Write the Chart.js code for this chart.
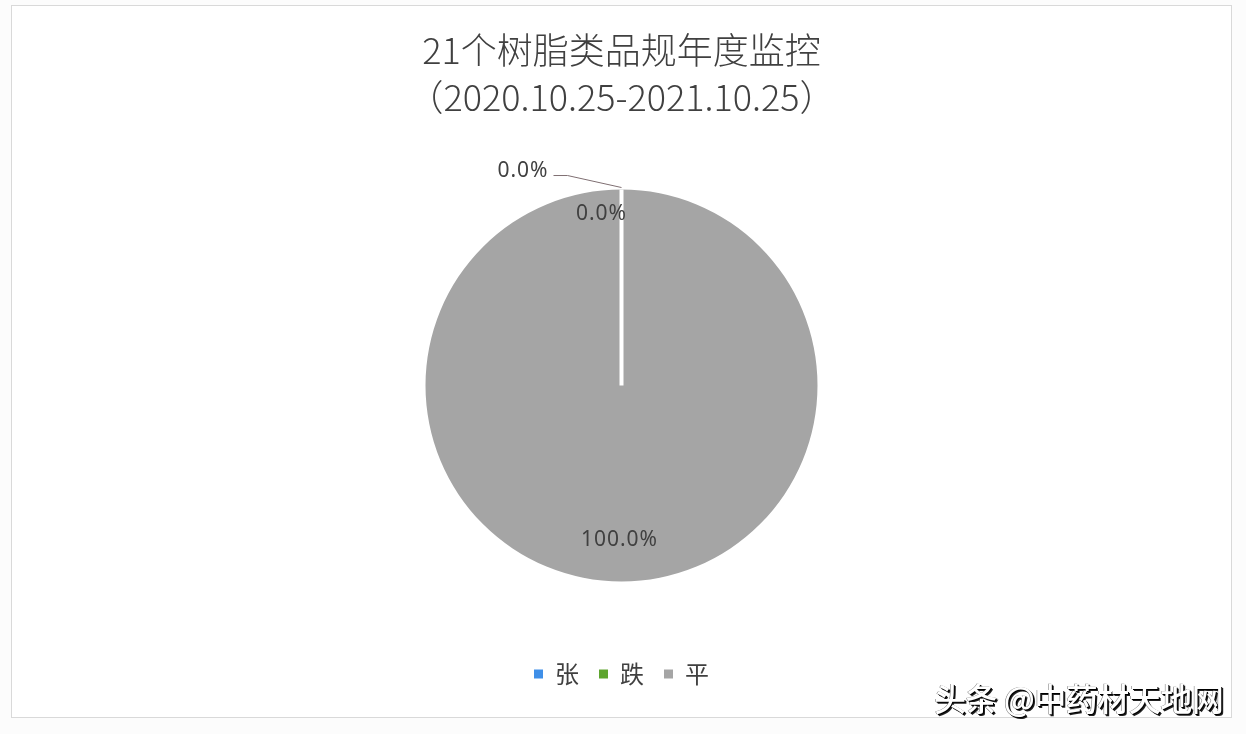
<!DOCTYPE html>
<html>
<head>
<meta charset="utf-8">
<script src="https://cdn.jsdelivr.net/npm/chart.js@4.4.0/dist/chart.umd.min.js"></script>
<style>
  html, body { margin: 0; padding: 0; background: #fcfcfc; width: 1246px; height: 734px; overflow: hidden; }
  #frame { position: absolute; left: 11px; top: 5px; width: 1221px; height: 713px; box-sizing: border-box;
           border: 1px solid #d9d9d9; background: #ffffff; }
  #wrap { position: absolute; left: 0; top: 0; width: 1219px; height: 711px; }
  #mark { position: absolute; left: 934px; top: 674px; font-family: "Noto Sans CJK SC"; font-size: 32px; font-weight: 500;
          color: #ffffff; letter-spacing: -0.5px; white-space: nowrap;
          text-shadow: 1px 1px 0 #000, 2px 2px 0 #222, -0.5px -0.5px 0 #666; }
</style>
</head>
<body>
<div id="frame"><div id="wrap"><canvas id="c"></canvas></div></div>
<div id="mark">头条 @中药材天地网</div>
<script>
const titleLines = ["21个树脂类品规年度监控", "（2020.10.25-2021.10.25）"];
const categories = ["张", "跌", "平"];
const values = [0, 0, 21];
const percentLabels = ["0.0%", "0.0%", "100.0%"];
const colors = ["#3f8fe8", "#5ea52f", "#a5a5a5"];

const labelPlugin = {
  id: 'pieLabels',
  afterDatasetsDraw(chart) {
    const meta = chart.getDatasetMeta(0);
    const ctx = chart.ctx;
    const arcs = meta.data;
    ctx.save();
    const a0 = arcs[0];
    const p0 = a0.getProps(['x', 'y', 'startAngle', 'endAngle', 'outerRadius'], true);
    ctx.strokeStyle = '#ffffff';
    ctx.lineWidth = 4;
    ctx.beginPath();
    ctx.moveTo(p0.x, p0.y);
    ctx.lineTo(p0.x + p0.outerRadius * Math.cos(p0.startAngle), p0.y + p0.outerRadius * Math.sin(p0.startAngle));
    ctx.stroke();

    ctx.font = '21px "Noto Sans", "Open Sans", sans-serif';
    try { ctx.letterSpacing = '1px'; } catch (e) {}
    ctx.fillStyle = '#404040';
    ctx.textBaseline = 'middle';
    arcs.forEach((arc, i) => {
      const p = arc.getProps(['x', 'y', 'startAngle', 'endAngle', 'outerRadius'], true);
      const mid = (p.startAngle + p.endAngle) / 2;
      const ex = p.x + p.outerRadius * Math.cos(mid);
      const ey = p.y + p.outerRadius * Math.sin(mid);
      if (i === 0) {
        ctx.strokeStyle = '#7f6f72';
        ctx.lineWidth = 1;
        ctx.beginPath();
        ctx.moveTo(ex, ey - 2);
        ctx.lineTo(ex - 54, ey - 14);
        ctx.lineTo(ex - 68, ey - 14);
        ctx.stroke();
        ctx.textAlign = 'right';
        ctx.fillText(percentLabels[i], ex - 73, ey - 19);
      } else if (i === 1) {
        ctx.textAlign = 'center';
        ctx.fillText(percentLabels[i], ex - 20, ey + 24);
      } else {
        const r = p.outerRadius * 0.79;
        ctx.textAlign = 'center';
        ctx.fillText(percentLabels[i], p.x + r * Math.cos(mid) - 2, p.y + r * Math.sin(mid));
      }
    });
    ctx.restore();
  }
};

new Chart(document.getElementById('c'), {
  type: 'pie',
  data: {
    labels: categories,
    datasets: [{
      data: values,
      backgroundColor: colors,
      borderWidth: 0,
      radius: 196
    }]
  },
  options: {
    responsive: true,
    maintainAspectRatio: false,
    animation: false,
    layout: { padding: { top: 0, bottom: 21, left: 0, right: 0 } },
    plugins: {
      tooltip: { enabled: false },
      title: {
        display: true,
        text: titleLines,
        color: '#404040',
        font: { family: '"Noto Sans CJK SC", sans-serif', size: 36, weight: 300, lineHeight: 1.306 },
        padding: { top: 20.5, bottom: 8.5 }
      },
      legend: {
        display: true,
        position: 'bottom',
        labels: {
          boxWidth: 9,
          boxHeight: 9,
          padding: 20,
          color: '#404040',
          font: { family: '"Noto Sans CJK SC", sans-serif', size: 24 }
        }
      }
    }
  },
  plugins: [labelPlugin]
});
</script>
</body>
</html>
